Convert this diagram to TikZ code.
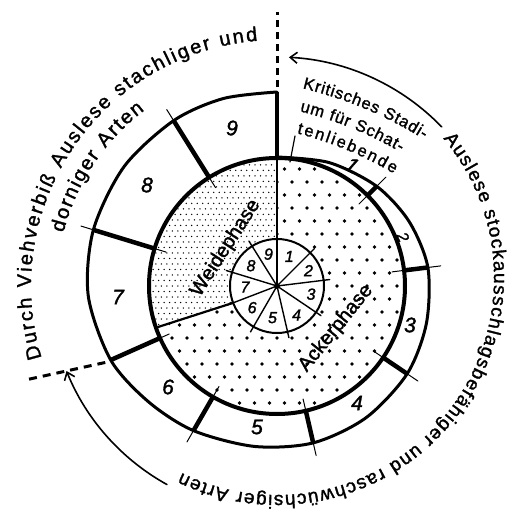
\documentclass[tikz,border=0pt]{standalone}
\usepackage{fontspec}
\setmainfont{Liberation Sans}[FakeBold=1.5]
\usetikzlibrary{decorations.text,arrows.meta}
\tikzset{
  bignum/.style={font=\fontsize{21}{23}\selectfont\itshape, inner sep=0pt},
  smallnum/.style={font=\fontsize{16}{18}\selectfont\itshape, inner sep=0pt},
  ringline/.style={line width=3pt},
  thickdiv/.style={line width=4.5pt, line cap=butt},
  thintick/.style={line width=1pt},
  dashline/.style={line width=3pt, dash pattern=on 7pt off 5pt, line cap=butt},
  curvearrow/.style={line width=1.6pt, -{Straight Barb[length=7pt,width=11pt,line width=1.6pt]}},
}
\begin{document}
\begin{tikzpicture}[x=1pt,y=1pt,line cap=round]
\useasboundingbox (-277,-233) rectangle (231,286);

% fine dots (Weidephase)
\begin{scope}
\clip (0,0) -- (90:128pt) arc[start angle=90,end angle=200,radius=128pt] -- cycle;
\foreach \j in {-9,...,24} \foreach \i in {-24,...,0} \fill ({\i*5.5+2.75*mod(\j,2)},{\j*5.5}) circle (0.75pt);
\end{scope}
% coarse dots (Ackerphase)
\begin{scope}
\clip (0,0) -- (200:128pt) arc[start angle=200,end angle=450,radius=128pt] -- cycle;
\foreach \j in {-10,...,10} \foreach \i in {-10,...,10} \fill ({\i*15+7.5*mod(\j,2)},{\j*13}) circle (1.9pt);
\end{scope}

% boundaries inside the disk
\draw[line width=2.6pt] (90:47pt) -- (90:128pt);
\draw[line width=2.2pt] (201:47pt) -- (199:128pt);

% small circle
\filldraw[fill=white, line width=2pt] (0,0) circle (47pt);
\foreach \a in {90,45,7,-34,-77,-120,201,163,122}
  \draw[line width=1.4pt] (0,0) -- (\a:53pt);
\fill (0,0) circle (3pt);

% inner circle
\draw[line width=4pt] (0,0) circle (128pt);

% outer spiral
\draw[ringline] plot[smooth, tension=0.5] coordinates {(90:129pt) (67:134pt) (45:141pt) (26:147pt) (7:152pt) (-14:154pt) (-34:157pt) (-56:159pt) (-77:161pt) (-98:162pt) (-120:167pt) (-138:173pt) (-156:182pt) (-177:189pt) (-197:192pt) (-218:194pt) (-238:195pt) (-254:195pt) (-270:194pt)};

% dividers
\foreach \a/\rad in {45/141, 7/152, -34/157, -77/161, -120/167, 163/192, 122/195} {
  \pgfmathsetmacro\ro{\rad+13}
  \draw[thintick] (\a:116pt) -- (\a:\ro pt);
  \draw[thickdiv] (\a:128pt) -- (\a:\rad pt);
}
\draw[thickdiv] (90:128pt) -- (90:194pt);
\draw[thickdiv] (204:128pt) -- (204:182pt);
\draw[thintick] (204:118pt) -- (204:128pt);

% dashed continuations
\draw[dashline] (90:199pt) -- (90:274pt);
\draw[dashline, dash pattern=on 8pt off 6pt] (204:188pt) -- (200.5:268pt);

% arrows
\draw[curvearrow] (44:229pt) arc[start angle=44,end angle=87,radius=229pt];
\draw[curvearrow] (241:227pt) arc[start angle=241,end angle=202,radius=227pt];

% leader
\draw[line width=1.2pt] (18,150) -- (13,124);

% curved texts
\path[decorate, decoration={text along path, text align=fit to path,
  text={|\fontsize{20}{22}\selectfont|Durch Viehverbiß Auslese stachliger und}}]
  (197:246pt) arc[start angle=197,end angle=94.5,radius=246pt];
\path[decorate, decoration={text along path, text align=fit to path,
  text={|\fontsize{20}{22}\selectfont|dorniger Arten}}]
  (166:220pt) arc[start angle=166,end angle=127,radius=220pt];
\path[decorate, decoration={text along path, text align=fit to path,
  text={|\fontsize{19}{22}\selectfont|Auslese stockausschlagsbefähiger und raschwüchsiger Arten}}, shift={(0,8)}]
  (40:217pt) arc[start angle=40,end angle=-116,radius=217pt];
\begin{scope}[shift={(-70,-200)}]
\path[decorate, decoration={text along path, text align=fit to path,
  text={|\fontsize{16.5}{20}\selectfont|Kritisches Stadi-}}]
  (76.5:409pt) arc[start angle=76.5,end angle=58,radius=409pt];
\path[decorate, decoration={text along path, text align=fit to path,
  text={|\fontsize{16.5}{20}\selectfont|um für Schat-}}]
  (76.1:386pt) arc[start angle=76.1,end angle=59.9,radius=386pt];
\path[decorate, decoration={text along path, text align=fit to path,
  text={|\fontsize{16.5}{20}\selectfont|tenliebende}}]
  (75.7:364pt) arc[start angle=75.7,end angle=59.1,radius=364pt];
\end{scope}

% phase labels (straight baselines)
\path[decorate, decoration={text along path, text align=center,
  text={|\fontsize{20}{22}\selectfont|Weidephase}}]
  (-84,-22) -- (-10,92);
\path[decorate, decoration={text along path, text align=center,
  text={|\fontsize{20}{22}\selectfont|Ackerphase}}]
  (19,-100) -- (107,9);

% ring numbers
\node[bignum, rotate=-30] (r1) at (75,121) {1};
\node[bignum, rotate=-65, font=\fontsize{16}{18}\selectfont\itshape] (r2) at (126,49) {2};
\node[bignum] (r3) at (133,-39) {3};
\node[bignum] (r4) at (80,-117) {4};
\node[bignum] (r5) at (-20,-141) {5};
\node[bignum] (r6) at (-109,-101) {6};
\node[bignum] (r7) at (-159,-11) {7};
\node[bignum] (r8) at (-130,101) {8};
\node[bignum] (r9) at (-45,158) {9};

% small circle numbers
\node[smallnum] (s1) at (67.5:32pt) {1};
\node[smallnum] (s2) at (26:35pt) {2};
\node[smallnum] (s3) at (-13.5:35pt) {3};
\node[smallnum] (s4) at (-56:35pt) {4};
\node[smallnum] (s5) at (-98:32pt) {5};
\node[smallnum] (s6) at (221:33pt) {6};
\node[smallnum] (s7) at (182:32pt) {7};
\node[smallnum] (s8) at (142:33pt) {8};
\node[smallnum] (s9) at (105:33pt) {9};
\end{tikzpicture}
\end{document}
